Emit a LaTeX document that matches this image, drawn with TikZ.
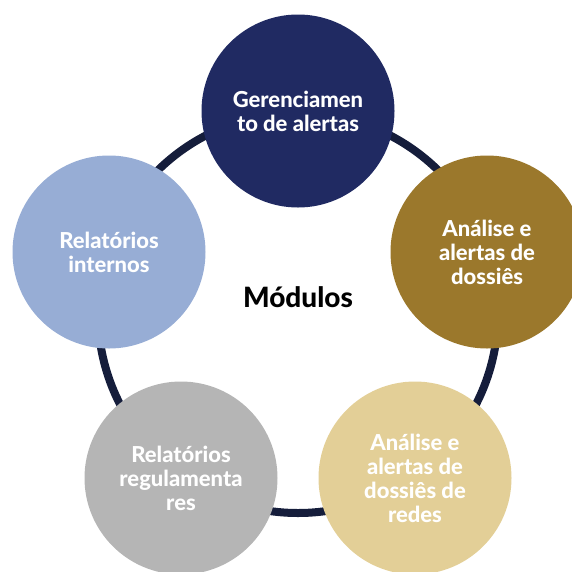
\documentclass[tikz,border=0pt]{standalone}
\usepackage{fontspec}
\setmainfont{Lato}[BoldFont={Lato Heavy}]
\definecolor{cnavy}{HTML}{202A62}
\definecolor{cgold}{HTML}{9B782C}
\definecolor{csand}{HTML}{E3CF97}
\definecolor{cgray}{HTML}{B5B5B5}
\definecolor{cblue}{HTML}{97ADD5}
\definecolor{cring}{HTML}{151D3B}
\tikzset{
    modulo/.style={circle, minimum size=193pt, inner sep=0pt, text=white, align=center,
        font=\fontsize{22}{24}\selectfont\bfseries},
    ring/.style={draw=cring, line width=8pt}
}
\begin{document}
\begin{tikzpicture}[x=1pt,y=-1pt]
\useasboundingbox (0,0) rectangle (572,571);
\clip (0,0) rectangle (572,571);
\coordinate (O) at (298,313);
\draw[ring] (O) circle [radius=200pt];
\foreach \n/\x/\y/\c/\t in {A/298/111/cnavy/{Gerenciamen\\to de alertas},
    B/487/252/cgold/{Análise e\\alertas de\\dossiês},
    C/415/478/csand/{Análise e\\alertas de\\dossiês de\\redes},
    D/181/478/cgray/{Relatórios\\regulamenta\\res},
    E/109/252/cblue/{Relatórios\\internos}}
{
    \node[modulo,fill=\c] (\n) at (\x,\y){\t};
}
\node[font=\fontsize{28}{30}\selectfont\bfseries] (M) at (298,297){Módulos};
\end{tikzpicture}
\end{document}
